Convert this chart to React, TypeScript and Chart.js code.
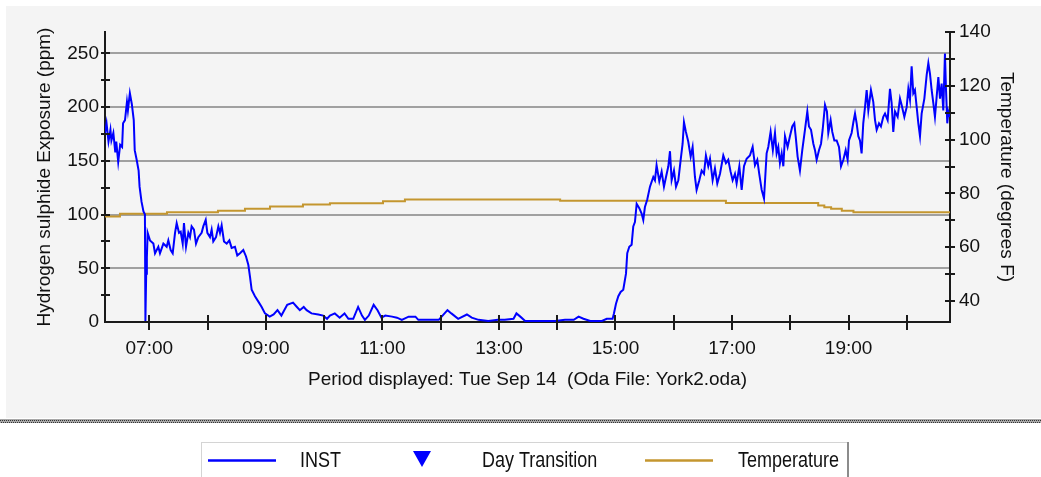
import React, { useEffect, useRef } from "react";
import { Chart, registerables } from "chart.js";

Chart.register(...registerables);

// ---- Data (time in minutes after midnight, Tue Sep 14) ----
const instTimes = [
  374.4, 376, 378, 380, 381, 383, 385, 386, 388, 390, 392, 393, 395, 397, 398, 400, 402, 404, 405, 407,
  409, 410, 412, 414, 415.5, 416, 416.8, 417.5, 418.3, 420.7, 424.2, 425.9, 429.3, 431, 434.5, 437.9, 439.6, 442, 444.1, 446.5,
  448.2, 450.6, 452.3, 454.4, 455.7, 457.8, 460.2, 461.9, 463.6, 466, 468.1, 470.5, 473.9, 475.6, 478.1, 479.8, 482.5, 484.2, 485.9, 488.7,
  491.1, 492.8, 494.5, 496.9, 499.7, 502.4, 504.8, 508.2, 510.6, 513.4, 516.8, 519.6, 522, 523.7, 525.4, 528.8, 532.3, 535.7, 539.1, 544,
  548, 552, 556, 562, 568, 572, 575, 579, 582, 587, 594, 599, 603, 606, 611, 616, 621, 625, 630, 635,
  639, 642, 646, 651, 655, 659, 663, 670, 675, 680, 687, 694, 697, 718, 721, 727, 731, 738, 747, 752,
  759, 769, 779, 786, 795, 798, 802, 807, 821, 838, 848, 857, 862, 867, 874, 886, 891, 897, 898.4, 900.5,
  902.9, 905.3, 908, 910.8, 912.1, 914.2, 916.6, 918.3, 920, 921.8, 924.5, 926.9, 928.6, 930.3, 932.7, 935.5, 938.9, 940.6, 942.3, 945.1,
  947.5, 949.9, 952, 954.4, 956.1, 957.8, 960.2, 962.3, 964.7, 967.1, 969.1, 970.5, 972.5, 974.9, 977.4, 979.4, 981.8, 983.5, 986.3, 988.7,
  991.1, 993.1, 995.5, 997.3, 1000, 1002.4, 1004.8, 1007.6, 1011, 1013.7, 1016.1, 1018.5, 1020.6, 1023, 1024.7, 1027.5, 1029.9, 1032.3, 1035, 1038.4,
  1041.2, 1043.6, 1046, 1048, 1050.5, 1052.9, 1055.6, 1057.3, 1059.7, 1062, 1064.2, 1065.9, 1067.6, 1069.3, 1071.1, 1072.8, 1074.5, 1077.2, 1079.6, 1082,
  1084.1, 1085.5, 1087.5, 1089.9, 1092.3, 1095.1, 1097.5, 1099.2, 1101.3, 1103.7, 1105.4, 1107.1, 1109.5, 1111.6, 1113.3, 1115.7, 1117.7, 1119.1, 1121.5, 1123.2,
  1125.3, 1127.7, 1130.1, 1132.2, 1134.6, 1137, 1139, 1140.4, 1143.1, 1144.9, 1146.6, 1148.3, 1150, 1151.7, 1153.4, 1155.1, 1156.9, 1158.6, 1160.3, 1163,
  1165.4, 1167.2, 1168.9, 1171.3, 1173.3, 1175.7, 1177.5, 1180.2, 1182.6, 1184.3, 1186, 1187.8, 1190.5, 1192.9, 1194.6, 1197.4, 1199.8, 1201.5, 1203.2, 1204.9,
  1206.6, 1208.3, 1210.1, 1211.8, 1213.5, 1215.2, 1218, 1220.4, 1222.1, 1223.8, 1225.5, 1227.2, 1228.9, 1230.7, 1232.4, 1234.1, 1235.8, 1237.5, 1239.2, 1240.3,
  1241.6, 1242.7, 1244.4,
];
const instValues = [
  176, 185, 168, 179, 169, 176, 158, 168, 149, 165, 163, 185, 188, 205, 197, 213, 203, 188, 160, 151,
  141, 126, 112, 103, 100, 1, 45, 60, 83, 76, 73, 64, 70, 64, 73, 70, 76, 67, 64, 83,
  92, 83, 84, 73, 92, 70, 83, 79, 89, 86, 73, 79, 83, 89, 95, 83, 79, 86, 75, 79,
  89, 83, 90, 75, 73, 76, 69, 70, 62, 64, 67, 61, 53, 42, 30, 24, 19, 14, 8, 5,
  7, 11, 6, 16, 18, 14, 11, 14, 11, 8, 7, 6, 3, 6, 8, 4, 8, 3, 3, 14,
  6, 2, 6, 16, 11, 4, 6, 5, 4, 2, 5, 5, 2, 2, 5, 11, 8, 3, 7, 4,
  2, 1, 2, 2, 3, 8, 5, 1, 1, 1, 2, 2, 5, 3, 1, 1, 3, 3, 8, 17,
  24, 28, 30, 45, 64, 70, 72, 89, 93, 110, 106, 101, 95, 107, 114, 126, 135, 132, 146, 131,
  140, 126, 135, 145, 159, 132, 141, 126, 132, 151, 166, 186, 177, 168, 154, 163, 135, 123, 132, 141,
  138, 155, 145, 152, 132, 143, 129, 138, 155, 148, 151, 140, 132, 138, 129, 145, 123, 145, 152, 155,
  163, 146, 151, 138, 123, 115, 157, 163, 177, 160, 176, 157, 163, 148, 157, 145, 173, 163, 173, 182,
  185, 173, 154, 141, 160, 179, 196, 182, 179, 166, 160, 151, 160, 166, 179, 202, 196, 176, 188, 177,
  169, 169, 163, 145, 151, 160, 151, 169, 176, 186, 194, 185, 173, 169, 157, 185, 200, 216, 197, 216,
  205, 188, 179, 185, 182, 191, 194, 188, 217, 204, 177, 196, 191, 208, 202, 191, 200, 217, 207, 238,
  213, 216, 200, 185, 173, 194, 208, 230, 241, 231, 216, 204, 191, 210, 228, 208, 222, 197, 250, 216,
  185, 196, 191,
];
const tempTimes = [
  374.4, 389.8, 438.2, 490.7, 518.5, 544.3, 578.2, 606, 660.6, 683.2, 843, 1013.7, 1108.7, 1115, 1122, 1133, 1145, 1244.4,
];
const tempValues = [
  71.4, 72.4, 73.0, 73.6, 74.3, 75.1, 75.9, 76.3, 77.1, 77.7, 77.3, 76.4, 75.5, 74.9, 74.3, 73.6, 73.0, 73.0,
];

const seriesLabels = ["INST", "Day Transition", "Temperature"];
const xTitle = "Period displayed: Tue Sep 14  (Oda File: York2.oda)";
const yLeftTitle = "Hydrogen sulphide Exposure (ppm)";
const yRightTitle = "Temperature (degrees F)";

const xMin = 374.4;
const xMax = 1244.4;
const leftMin = 0;
const leftMax = 270;
const rightMin = 32.2;
const rightMax = 140;

const hourLabelTicks = [420, 540, 660, 780, 900, 1020, 1140];
const hourTicks = [420, 480, 540, 600, 660, 720, 780, 840, 900, 960, 1020, 1080, 1140, 1200];
const leftTicks = [0, 50, 100, 150, 200, 250];
const leftMinorTicks = [25, 50, 75, 100, 125, 150, 175, 200, 225, 250];
const rightTicks = [40, 60, 80, 100, 120, 140];
const rightMinorTicks = [40, 50, 60, 70, 80, 90, 100, 110, 120, 130, 140];

const FONT = "'Liberation Sans', Arial, sans-serif";
const TEXT = "#111111";

const fmtHour = (v: number) => String(Math.round(v / 60)).padStart(2, "0") + ":00";

const backgroundPlugin = {
  id: "panelBackground",
  beforeDraw(chart: any) {
    const ctx = chart.ctx;
    ctx.save();
    ctx.fillStyle = "#ffffff";
    ctx.fillRect(0, 0, chart.width, chart.height);
    ctx.fillStyle = "#f4f4f4";
    ctx.fillRect(6, 6, chart.width - 6, 412);
    ctx.fillStyle = "#a8a8a8";
    ctx.fillRect(0, 419, chart.width, 4);
    ctx.strokeStyle = "#333333";
    ctx.lineWidth = 1;
    ctx.setLineDash([1, 1]);
    ctx.beginPath();
    ctx.moveTo(0, 420.5);
    ctx.lineTo(chart.width, 420.5);
    ctx.stroke();
    ctx.lineDashOffset = 1;
    ctx.beginPath();
    ctx.moveTo(0, 422.5);
    ctx.lineTo(chart.width, 422.5);
    ctx.stroke();
    ctx.restore();
  },
};

const crossTicksPlugin = {
  id: "crossTicks",
  afterDatasetsDraw(chart: any) {
    const { ctx, chartArea, scales } = chart;
    ctx.save();
    ctx.strokeStyle = "#1a1a1a";
    ctx.lineWidth = 2;
    ctx.beginPath();
    for (const v of leftMinorTicks) {
      const y = Math.round(scales.y.getPixelForValue(v));
      ctx.moveTo(chartArea.left - 4, y);
      ctx.lineTo(chartArea.left + 5, y);
    }
    for (const v of rightMinorTicks) {
      const y = Math.round(scales.y2.getPixelForValue(v));
      ctx.moveTo(chartArea.right - 5, y);
      ctx.lineTo(chartArea.right + 5, y);
    }
    for (const v of hourTicks) {
      const x = Math.round(scales.x.getPixelForValue(v));
      ctx.moveTo(x, chartArea.bottom - 7);
      ctx.lineTo(x, chartArea.bottom + 8);
    }
    ctx.stroke();
    ctx.restore();
  },
};

const legendPlugin = {
  id: "boxLegend",
  afterDraw(chart: any) {
    const ctx = chart.ctx;
    const markerX = [242, 422, 679];
    const textX = [300, 482, 738];
    const cy = 460;
    ctx.save();
    ctx.fillStyle = "#ffffff";
    ctx.fillRect(201, 442, 647, 35);
    ctx.strokeStyle = "#d4d4d4";
    ctx.lineWidth = 1;
    ctx.strokeRect(201.5, 442.5, 647, 36);
    ctx.strokeStyle = "#8c8c8c";
    ctx.lineWidth = 2;
    ctx.beginPath();
    ctx.moveTo(848, 442);
    ctx.lineTo(848, 477);
    ctx.stroke();
    chart.data.datasets.forEach((d: any, i: number) => {
      if (d.pointStyle === "triangle") {
        ctx.fillStyle = d.pointBackgroundColor;
        ctx.beginPath();
        ctx.moveTo(markerX[i] - 9, cy - 9);
        ctx.lineTo(markerX[i] + 9, cy - 9);
        ctx.lineTo(markerX[i], cy + 7);
        ctx.closePath();
        ctx.fill();
      } else {
        ctx.strokeStyle = d.borderColor;
        ctx.lineWidth = 2.5;
        ctx.beginPath();
        ctx.moveTo(markerX[i] - 34, cy + 0.5);
        ctx.lineTo(markerX[i] + 34, cy + 0.5);
        ctx.stroke();
      }
      ctx.save();
      ctx.translate(textX[i], cy + 1);
      ctx.scale(1, 1.22);
      ctx.fillStyle = TEXT;
      ctx.font = `18px ${FONT}`;
      ctx.textBaseline = "middle";
      ctx.textAlign = "left";
      ctx.fillText(d.label, 0, 0);
      ctx.restore();
    });
    ctx.restore();
  },
};

export default function App() {
  const canvasRef = useRef<HTMLCanvasElement>(null);

  useEffect(() => {
    const instData = instTimes.map((t, i) => ({ x: t, y: instValues[i] }));
    const tempData = tempTimes.map((t, i) => ({ x: t, y: tempValues[i] }));
    const chart = new Chart(canvasRef.current as HTMLCanvasElement, {
      type: "line",
      data: {
        datasets: [
          {
            label: seriesLabels[0],
            data: instData,
            borderColor: "#0000ff",
            borderWidth: 2,
            pointRadius: 0,
            yAxisID: "y",
          },
          {
            label: seriesLabels[1],
            data: [],
            showLine: false,
            pointStyle: "triangle",
            rotation: 180,
            pointBackgroundColor: "#0000ff",
            borderColor: "#0000ff",
            yAxisID: "y",
          } as any,
          {
            label: seriesLabels[2],
            data: tempData,
            borderColor: "#c4962f",
            borderWidth: 2,
            pointRadius: 0,
            stepped: true,
            yAxisID: "y2",
          },
        ],
      },
      options: {
        animation: false,
        responsive: false,
        devicePixelRatio: 1,
        layout: { padding: { top: 32, left: 0, right: 0, bottom: 0 } },
        plugins: {
          legend: { display: false },
          tooltip: { enabled: false },
        },
        scales: {
          x: {
            type: "linear",
            position: "bottom",
            min: xMin,
            max: xMax,
            afterFit: (s: any) => {
              s.height = 155;
            },
            afterBuildTicks: (s: any) => {
              s.ticks = hourLabelTicks.map((v) => ({ value: v }));
            },
            grid: { display: false, drawTicks: false },
            border: { display: true, color: "#1a1a1a", width: 2 },
            ticks: {
              autoSkip: false,
              maxRotation: 0,
              padding: 15,
              color: TEXT,
              font: { family: FONT, size: 19 },
              callback: (v: any) => fmtHour(Number(v)),
            },
            title: {
              display: true,
              text: xTitle,
              color: TEXT,
              font: { family: FONT, size: 19 },
              padding: { top: 0, bottom: 86 },
            },
          },
          y: {
            type: "linear",
            position: "left",
            min: leftMin,
            max: leftMax,
            afterFit: (s: any) => {
              s.width = 105;
            },
            afterBuildTicks: (s: any) => {
              s.ticks = leftTicks.map((v) => ({ value: v }));
            },
            grid: { color: "#a0a0a0", lineWidth: 2, drawTicks: false },
            border: { display: true, color: "#1a1a1a", width: 2 },
            ticks: {
              padding: 6,
              color: TEXT,
              font: { family: FONT, size: 19 },
            },
            title: {
              display: true,
              text: yLeftTitle,
              color: TEXT,
              font: { family: FONT, size: 19 },
              padding: { top: 33, bottom: 0 },
            },
          },
          y2: {
            type: "linear",
            position: "right",
            min: rightMin,
            max: rightMax,
            afterFit: (s: any) => {
              s.width = 91;
            },
            afterBuildTicks: (s: any) => {
              s.ticks = rightTicks.map((v) => ({ value: v }));
            },
            grid: { drawOnChartArea: false, drawTicks: false },
            border: { display: true, color: "#1a1a1a", width: 2 },
            ticks: {
              padding: 9,
              color: TEXT,
              font: { family: FONT, size: 19 },
            },
            title: {
              display: true,
              text: yRightTitle,
              color: TEXT,
              font: { family: FONT, size: 19 },
              padding: { top: 23, bottom: 0 },
            },
          },
        },
      } as any,
      plugins: [backgroundPlugin, crossTicksPlugin, legendPlugin],
    });
    return () => chart.destroy();
  }, []);

  return (
    <div style={{ position: "absolute", left: 0, top: 0, width: 1041, height: 477, background: "#ffffff" }}>
      <canvas ref={canvasRef} width={1041} height={477} style={{ display: "block", width: 1041, height: 477 }} />
    </div>
  );
}
